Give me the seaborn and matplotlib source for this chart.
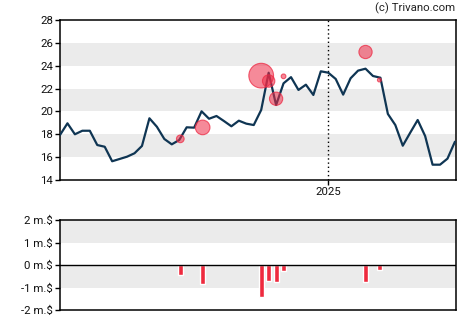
import matplotlib
matplotlib.use("Agg")
import matplotlib.pyplot as plt
import matplotlib.dates as mdates
import numpy as np
import pandas as pd
import seaborn as sns

# Weekly closing prices (USD)
start_date = "2024-04-24"
prices = [
    17.94, 18.96, 18.00, 18.31, 18.31, 17.06, 16.91, 15.64, 15.84, 16.04,
    16.34, 16.98, 19.40, 18.66, 17.59, 17.12, 17.50, 18.61, 18.58, 20.01,
    19.36, 19.60, 19.16, 18.70, 19.19, 18.93, 18.81, 20.13, 23.39, 20.56,
    22.46, 23.00, 21.88, 22.34, 21.44, 23.51, 23.39, 22.84, 21.47, 22.90,
    23.57, 23.74, 23.10, 22.95, 19.78, 18.81, 17.00, 18.14, 19.25, 17.85,
    15.34, 15.34, 15.87, 17.35,
]

# Insider transactions: date, trade price, net value in million USD
trade_dates = ["2024-08-15", "2024-09-05", "2024-10-30", "2024-11-06",
               "2024-11-13", "2024-11-20", "2025-02-05", "2025-02-18"]
trade_prices = [17.60, 18.60, 23.13, 22.66, 21.11, 23.07, 25.20, 22.75]
trade_values = [-0.44, -0.84, -1.42, -0.71, -0.76, -0.27, -0.76, -0.22]

y_ticks = [14, 16, 18, 20, 22, 24, 26, 28]
vol_ticks = [-2, -1, 0, 1, 2]
vol_labels = ["-2 m.$", "-1 m.$", "0 m.$", "1 m.$", "2 m.$"]

dates = pd.date_range(start_date, periods=len(prices), freq="7D")
price_df = pd.DataFrame({"date": dates, "price": prices})
trade_df = pd.DataFrame({
    "date": pd.to_datetime(trade_dates),
    "price": trade_prices,
    "value": trade_values,
})

sns.set_style("white")
plt.rcParams["font.family"] = ["Roboto", "DejaVu Sans"]

DPI = 100
fig = plt.figure(figsize=(4.7, 3.25), dpi=DPI)
ax = fig.add_axes([60 / 470, 1 - 180 / 325, 396 / 470, 160 / 325])
axv = fig.add_axes([60 / 470, 1 - 310 / 325, 396 / 470, 90 / 325])

band = "#ebebeb"
line_color = "#0f3553"
red = "#ee2a3e"

x_lo = dates[0]
x_hi = dates[-1] + pd.Timedelta(days=1)

# --- price panel ---
for lo in (16, 20, 24):
    ax.axhspan(lo, lo + 2, color=band, lw=0, zorder=0)

sns.lineplot(data=price_df, x="date", y="price", ax=ax, color=line_color,
             lw=1.6, zorder=3)

# bubble radius (px) proportional to transaction size
radius_px = 8.7 * trade_df["value"].abs()
sizes = (2 * radius_px * 72 / DPI) ** 2
sns.scatterplot(data=trade_df, x="date", y="price", ax=ax, s=sizes,
                color=(0.93, 0.17, 0.27, 0.55),
                edgecolor=(0.93, 0.17, 0.27, 0.75), linewidth=0.8,
                zorder=4, legend=False)

year_mark = pd.Timestamp("2025-01-01")
ax.axvline(year_mark, color="black", ls=(0, (1, 2)), lw=1, zorder=2)

ax.set_xlim(x_lo, x_hi)
ax.set_ylim(14, 28)
ax.set_yticks(y_ticks)
ax.set_xticks([year_mark])
ax.xaxis.set_major_formatter(mdates.DateFormatter("%Y"))
ax.set_xlabel("")
ax.set_ylabel("")

# --- transaction volume panel ---
axv.axhspan(1, 2, color=band, lw=0, zorder=0)
axv.axhspan(-1, 0, color=band, lw=0, zorder=0)
axv.bar(trade_df["date"], trade_df["value"], width=4.7, color=red,
        align="center", zorder=3)
axv.axhline(0, color="black", lw=1, zorder=4)
axv.set_xlim(x_lo, x_hi)
axv.set_ylim(-2, 2)
axv.set_yticks(vol_ticks)
axv.set_yticklabels(vol_labels)
axv.set_xticks([])

for a in (ax, axv):
    for s in a.spines.values():
        s.set_visible(True)
        s.set_color("black")
        s.set_linewidth(1.1)
    a.tick_params(axis="both", which="both", direction="out", length=3.5,
                  width=1, color="black", labelsize=8.2, labelcolor="#111111",
                  pad=1.5, left=True, bottom=True)
    a.grid(False)

fig.text(455 / 470, 1 - 8 / 325, "(c) Trivano.com", ha="right", va="center",
         fontsize=8.2, color="#222222")

fig.savefig("out.png", dpi=DPI)
